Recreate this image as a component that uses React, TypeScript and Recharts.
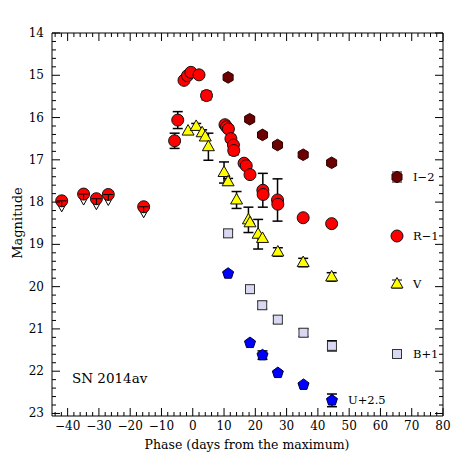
import React from "react";
import { ScatterChart, Scatter, XAxis, YAxis, ErrorBar } from "recharts";

// phases (days from max) and magnitudes
const iPhase = [11.3, 18.2, 22.3, 27.1, 35.3, 44.4];
const iMag = [15.05, 16.04, 16.41, 16.65, 16.88, 17.07];
const iErr = [0.06, 0.05, 0.05, 0.05, 0.05, 0.05];

const rPhase = [-5.8, -4.8, -2.8, -1.7, -0.6, 2.0, 4.4, 10.3, 10.8, 11.4, 12.2, 13.0, 13.1, 16.4, 17.1, 18.3, 22.4, 22.5, 27.1, 27.2, 35.3, 44.4];
const rMag = [16.55, 16.06, 15.12, 15.01, 14.93, 14.99, 15.48, 16.17, 16.22, 16.27, 16.5, 16.65, 16.78, 17.08, 17.14, 17.35, 17.72, 17.82, 17.95, 18.05, 18.37, 18.51];
const rErr = [0.18, 0.2, null, null, null, null, 0.1, 0.08, null, 0.08, 0.08, null, 0.1, 0.07, null, null, 0.4, null, 0.5, null, null, null];

const rLimPhase = [-41.9, -34.9, -30.8, -27.0, -15.7];
const rLimMag = [17.97, 17.81, 17.92, 17.82, 18.11];

const vPhase = [-1.5, 1.1, 3.0, 4.0, 5.0, 10.0, 11.3, 14.0, 17.8, 18.3, 20.9, 22.3, 27.2, 35.3, 44.4];
const vMag = [16.32, 16.21, 16.36, 16.46, 16.69, 17.3, 17.52, 17.95, 18.42, 18.49, 18.76, 18.86, 19.18, 19.43, 19.77];
const vErr = [null, 0.07, 0.07, null, 0.32, 0.25, 0.08, 0.2, 0.3, null, 0.35, null, 0.1, 0.1, 0.1];

const bPhase = [11.3, 18.3, 22.2, 27.2, 35.4, 44.5];
const bMag = [18.74, 20.06, 20.44, 20.78, 21.09, 21.4];
const bErr = [0.09, 0.09, 0.09, 0.09, 0.09, 0.12];

const uPhase = [11.3, 18.3, 22.3, 27.2, 35.4, 44.5];
const uMag = [19.69, 21.33, 21.62, 22.04, 22.32, 22.69];
const uErr = [null, null, 0.1, null, null, 0.15];

const xLabels = [-40, -30, -20, -10, 0, 10, 20, 30, 40, 50, 60, 70, 80];
const yLabels = [14, 15, 16, 17, 18, 19, 20, 21, 22, 23];

const legendNames = ["I\u22122", "R\u22121", "V", "B+1"];

const toRows = (xs: number[], ys: number[], es?: (number | null)[]) =>
  xs.map((x, i) => ({ x, y: ys[i], err: es ? es[i] : null }));

const iData = toRows(iPhase, iMag, iErr);
const rData = toRows(rPhase, rMag, rErr);
const rLimData = toRows(rLimPhase, rLimMag);
const vData = toRows(vPhase, vMag, vErr);
const bData = toRows(bPhase, bMag, bErr);
const uData = toRows(uPhase, uMag, uErr);

// minor ticks: every 2 days, every 0.2 mag
const xTicks: number[] = [];
for (let k = -22; k <= 40; k++) xTicks.push(k * 2);
const yTicks: number[] = [];
for (let k = 70; k <= 115; k++) yTicks.push(k / 5);

const FONT = "DejaVu Serif";
const fmt = (v: number) => (v < 0 ? "\u2212" + Math.abs(v) : String(v));
const isMajorX = (v: number) => xLabels.includes(Math.round(v));
const isMajorY = (v: number) => yLabels.some((l) => Math.abs(l - v) < 1e-6);

const BottomTick = (p: any) => {
  const v = p.payload.value;
  const major = isMajorX(v);
  return (
    <g>
      <line x1={p.x} x2={p.x} y1={p.y} y2={p.y - (major ? 8 : 4)} stroke="#000" />
      {major && (
        <text x={p.x} y={p.y + 14} textAnchor="middle" fontSize={12} fontFamily={FONT} fill="#000">
          {fmt(v)}
        </text>
      )}
    </g>
  );
};
const TopTick = (p: any) => {
  const major = isMajorX(p.payload.value);
  return <line x1={p.x} x2={p.x} y1={p.y} y2={p.y + (major ? 8 : 4)} stroke="#000" />;
};
const LeftTick = (p: any) => {
  const v = p.payload.value;
  const major = isMajorY(v);
  return (
    <g>
      <line x1={p.x} x2={p.x + (major ? 8 : 4)} y1={p.y} y2={p.y} stroke="#000" />
      {major && (
        <text x={p.x - 8} y={p.y + 4} textAnchor="end" fontSize={12} fontFamily={FONT} fill="#000">
          {Math.round(v)}
        </text>
      )}
    </g>
  );
};
const RightTick = (p: any) => {
  const major = isMajorY(p.payload.value);
  return <line x1={p.x} x2={p.x - (major ? 8 : 4)} y1={p.y} y2={p.y} stroke="#000" />;
};

// marker shapes
const poly = (cx: number, cy: number, n: number, r: number, start: number) =>
  Array.from({ length: n }, (_, k) => {
    const a = start + (k * 2 * Math.PI) / n;
    return `${cx + r * Math.cos(a)},${cy + r * Math.sin(a)}`;
  }).join(" ");

const HexShape = ({ cx, cy }: any) => (
  <polygon points={poly(cx, cy, 6, 5.8, -Math.PI / 2)} fill="#6b0000" stroke="#2a0000" strokeWidth={1} />
);
const CircleShape = ({ cx, cy }: any) => <circle cx={cx} cy={cy} r={6} fill="#ff0000" stroke="#111" strokeWidth={1} />;
const TriShape = ({ cx, cy }: any) => (
  <polygon points={`${cx},${cy - 6.5} ${cx + 6},${cy + 4} ${cx - 6},${cy + 4}`} fill="#ffff00" stroke="#111" strokeWidth={1} />
);
const SquareShape = ({ cx, cy }: any) => (
  <rect x={cx - 4.5} y={cy - 4.5} width={9} height={9} fill="#d8d8f2" stroke="#333" strokeWidth={1} />
);
const PentShape = ({ cx, cy }: any) => (
  <polygon points={poly(cx, cy, 5, 5.8, -Math.PI / 2)} fill="#0000ff" stroke="#000033" strokeWidth={1} />
);
const LimitShape = ({ cx, cy }: any) => (
  <g>
    <line x1={cx} x2={cx} y1={cy} y2={cy + 10} stroke="#000" />
    <polygon points={`${cx - 4.5},${cy + 3} ${cx + 4.5},${cy + 3} ${cx},${cy + 11}`} fill="#fff" stroke="#000" strokeWidth={1} />
    <circle cx={cx} cy={cy} r={6} fill="#ff0000" stroke="#111" strokeWidth={1} />
    <line x1={cx - 5} x2={cx + 5} y1={cy} y2={cy} stroke="#000" />
    <line x1={cx} x2={cx} y1={cy} y2={cy + 6} stroke="#000" />
  </g>
);

const Cap = ({ cx, cy, d }: any) => (
  <g stroke="#000">
    <line x1={cx - 5} x2={cx + 5} y1={cy - d} y2={cy - d} />
    <line x1={cx - 5} x2={cx + 5} y1={cy + d} y2={cy + d} />
  </g>
);

const legendShapes = [HexShape, CircleShape, TriShape, SquareShape];
const legendY = [169, 228, 276, 346];
const legendCaps = [5, 0, 4, 4.5];

export default function App() {
  const W = 460;
  const H = 460;
  return (
    <div style={{ position: "relative", width: W, height: H }}>
      <ScatterChart width={W} height={H} margin={{ top: 20, right: 20, bottom: 22, left: 14 }}>
        <XAxis xAxisId="b" type="number" dataKey="x" domain={[-45, 80]} ticks={xTicks} interval={0}
          allowDataOverflow tickSize={0} tickMargin={0} tickLine={false} axisLine={{ stroke: "#000" }}
          tick={BottomTick} height={30} orientation="bottom" />
        <XAxis xAxisId="t" type="number" dataKey="x" domain={[-45, 80]} ticks={xTicks} interval={0}
          allowDataOverflow tickSize={0} tickMargin={0} tickLine={false} axisLine={{ stroke: "#000" }}
          tick={TopTick} height={5} orientation="top" />
        <YAxis yAxisId="l" type="number" dataKey="y" domain={[14, 23.06]} reversed ticks={yTicks} interval={0}
          allowDataOverflow tickSize={0} tickMargin={0} tickLine={false} axisLine={{ stroke: "#000" }}
          tick={LeftTick} width={30} orientation="left" />
        <YAxis yAxisId="r" type="number" dataKey="y" domain={[14, 23.06]} reversed ticks={yTicks} interval={0}
          allowDataOverflow tickSize={0} tickMargin={0} tickLine={false} axisLine={{ stroke: "#000" }}
          tick={RightTick} width={5} orientation="right" />

        <Scatter xAxisId="b" yAxisId="l" data={rLimData} shape={LimitShape} isAnimationActive={false} />
        <Scatter xAxisId="b" yAxisId="l" data={uData} shape={PentShape} isAnimationActive={false}>
          <ErrorBar dataKey="err" direction="y" width={5} stroke="#000" />
        </Scatter>
        <Scatter xAxisId="b" yAxisId="l" data={bData} shape={SquareShape} isAnimationActive={false}>
          <ErrorBar dataKey="err" direction="y" width={5} stroke="#000" />
        </Scatter>
        <Scatter xAxisId="b" yAxisId="l" data={vData} shape={TriShape} isAnimationActive={false}>
          <ErrorBar dataKey="err" direction="y" width={5} stroke="#000" />
        </Scatter>
        <Scatter xAxisId="b" yAxisId="l" data={rData} shape={CircleShape} isAnimationActive={false}>
          <ErrorBar dataKey="err" direction="y" width={5} stroke="#000" />
        </Scatter>
        <Scatter xAxisId="b" yAxisId="l" data={iData} shape={HexShape} isAnimationActive={false}>
          <ErrorBar dataKey="err" direction="y" width={5} stroke="#000" />
        </Scatter>
      </ScatterChart>

      <svg width={W} height={H} style={{ position: "absolute", left: 0, top: 0, pointerEvents: "none" }}>
        <text x={239} y={441} textAnchor="middle" fontSize={12.5} fontFamily={FONT} fill="#000">
          Phase (days from the maximum)
        </text>
        <text x={0} y={0} transform="translate(14,215) rotate(-90)" textAnchor="middle" fontSize={13} fontFamily={FONT} fill="#000">
          Magnitude
        </text>
        <text x={64} y={375} fontSize={13.5} fontFamily={FONT} fill="#000">
          SN 2014av
        </text>
        {legendNames.map((name, i) => {
          const Shape = legendShapes[i];
          return (
            <g key={name}>
              {legendCaps[i] > 0 && <Cap cx={389} cy={legendY[i]} d={legendCaps[i]} />}
              <Shape cx={389} cy={legendY[i]} />
              <text x={405} y={legendY[i] + 4} fontSize={11.5} fontFamily={FONT} fill="#000">
                {name}
              </text>
            </g>
          );
        })}
        <text x={340} y={396} fontSize={11.5} fontFamily={FONT} fill="#000">
          U+2.5
        </text>
      </svg>
    </div>
  );
}
